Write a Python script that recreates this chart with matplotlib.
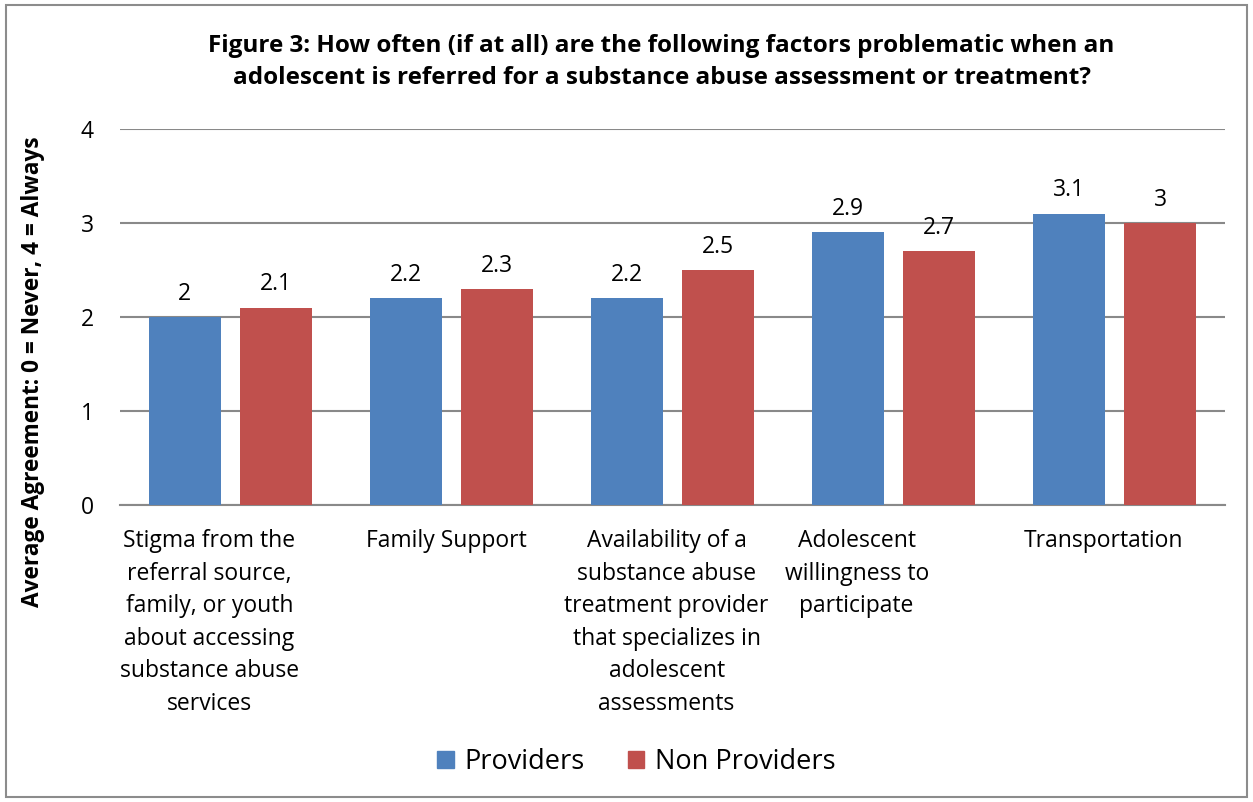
import numpy as np
import matplotlib
matplotlib.use('Agg')
import matplotlib.pyplot as plt
from matplotlib.patches import Rectangle, Patch

categories = [
    "Stigma from the\nreferral source,\nfamily, or youth\nabout accessing\nsubstance abuse\nservices",
    "Family Support",
    "Availability of a\nsubstance abuse\ntreatment provider\nthat specializes in\nadolescent\nassessments",
    "Adolescent\nwillingness to\nparticipate",
    "Transportation",
]
providers = [2.0, 2.2, 2.2, 2.9, 3.1]
non_providers = [2.1, 2.3, 2.5, 2.7, 3.0]
provider_labels = ["2", "2.2", "2.2", "2.9", "3.1"]
non_provider_labels = ["2.1", "2.3", "2.5", "2.7", "3"]
y_ticks = [0, 1, 2, 3, 4]

plt.rcParams['font.family'] = ['Open Sans', 'DejaVu Sans']

blue = '#4F81BD'
red = '#C0504D'
grid_color = '#898989'

fig = plt.figure(figsize=(12.53, 8.02), dpi=100)
ax = fig.add_axes([0.0958, 0.3703, 0.8819, 0.4689])

x = np.arange(len(categories))
width = 0.326
off = 0.207
b1 = ax.bar(x - off, providers, width, color=blue, zorder=3)
b2 = ax.bar(x + off, non_providers, width, color=red, zorder=3)

for rect, lab in zip(b1, provider_labels):
    ax.annotate(lab, (rect.get_x() + rect.get_width() / 2, rect.get_height()),
                xytext=(0, 8), textcoords='offset points', ha='center', va='bottom', fontsize=16.5)
for rect, lab in zip(b2, non_provider_labels):
    ax.annotate(lab, (rect.get_x() + rect.get_width() / 2, rect.get_height()),
                xytext=(0, 8), textcoords='offset points', ha='center', va='bottom', fontsize=16.5)

ax.set_xlim(-0.5, len(categories) - 0.5)
ax.set_ylim(0, 4)
ax.set_yticks(y_ticks)
ax.set_yticklabels([str(t) for t in y_ticks], fontsize=16.5)
ax.tick_params(axis='y', length=0, pad=19)
ax.set_xticks([])
ax.yaxis.grid(True, color=grid_color, linewidth=1.5, zorder=0)
for s in ['top', 'right', 'left']:
    ax.spines[s].set_visible(False)
ax.spines['bottom'].set_color(grid_color)
ax.spines['bottom'].set_linewidth(1.5)

# category labels, nudged the way the original wraps them
label_shift = [-0.095, -0.023, -0.027, -0.167, -0.05]
for i, (cat, sh) in enumerate(zip(categories, label_shift)):
    ax.text(i + sh, -0.26, cat, ha='center', va='top', fontsize=16.5,
            linespacing=1.47, transform=ax.transData)

fig.text(0.528, 0.923,
         "Figure 3: How often (if at all) are the following factors problematic when an\n"
         "adolescent is referred for a substance abuse assessment or treatment?",
         ha='center', va='center', fontsize=17.5, fontweight='bold', linespacing=1.42)

fig.text(0.026, 0.537, "Average Agreement: 0 = Never, 4 = Always", rotation=90,
         ha='center', va='center', fontsize=16.3, fontweight='bold')

handles = [Patch(color=blue), Patch(color=red)]
fig.legend(handles, ["Providers", "Non Providers"], loc='center', bbox_to_anchor=(0.508, 0.05),
           ncol=2, frameon=False, fontsize=19.5, handlelength=0.6, handleheight=0.6,
           handletextpad=0.4, columnspacing=1.6)

fig.patches.append(Rectangle((0.005, 0.006), 0.99, 0.988, transform=fig.transFigure,
                             fill=False, edgecolor='#8C8C8C', linewidth=1.5))

fig.savefig('out.png', dpi=100)
